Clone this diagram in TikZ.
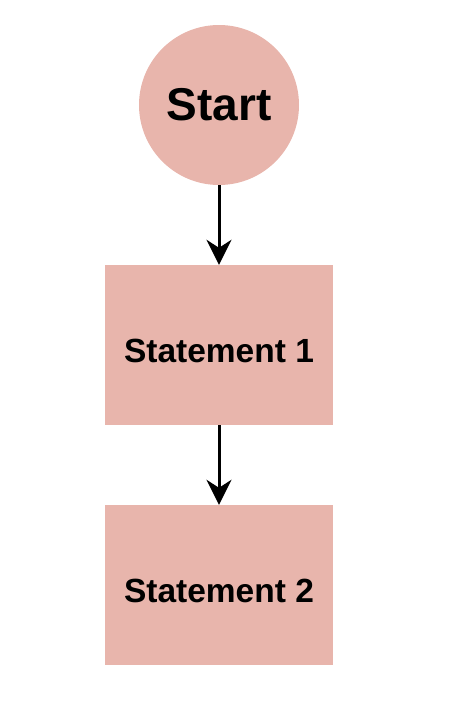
\documentclass[tikz,border=0pt]{standalone}
\usepackage{fontspec}
\setmainfont{Liberation Sans}
\usetikzlibrary{positioning,arrows.meta}
\definecolor{salmon}{HTML}{E8B5AC}
\tikzset{
    startnode/.style={circle, fill=salmon, minimum size=160pt, inner sep=0pt,
        font=\fontsize{46}{50}\selectfont\bfseries},
    stmtbox/.style={rectangle, fill=salmon, minimum width=228pt, minimum height=160pt,
        inner sep=0pt, text height=35pt, text depth=0pt,
        font=\fontsize{33.5}{38}\selectfont\bfseries},
    flow/.style={line width=3pt, -{Stealth[length=25pt, width=25pt, inset=8pt]}}
}
\begin{document}
\begin{tikzpicture}[x=1pt, y=-1pt]
    % Canvas
    \useasboundingbox (0,0) rectangle (464,720);

    % Nodes
    \node[startnode] (start) at (219,105) {Start};
    \node[stmtbox] (stmt1) at (219,345) {Statement 1};
    \node[stmtbox] (stmt2) at (219,585) {Statement 2};

    % Arrows
    \draw[flow] (start) -- (stmt1);
    \draw[flow] (stmt1) -- (stmt2);
\end{tikzpicture}
\end{document}
